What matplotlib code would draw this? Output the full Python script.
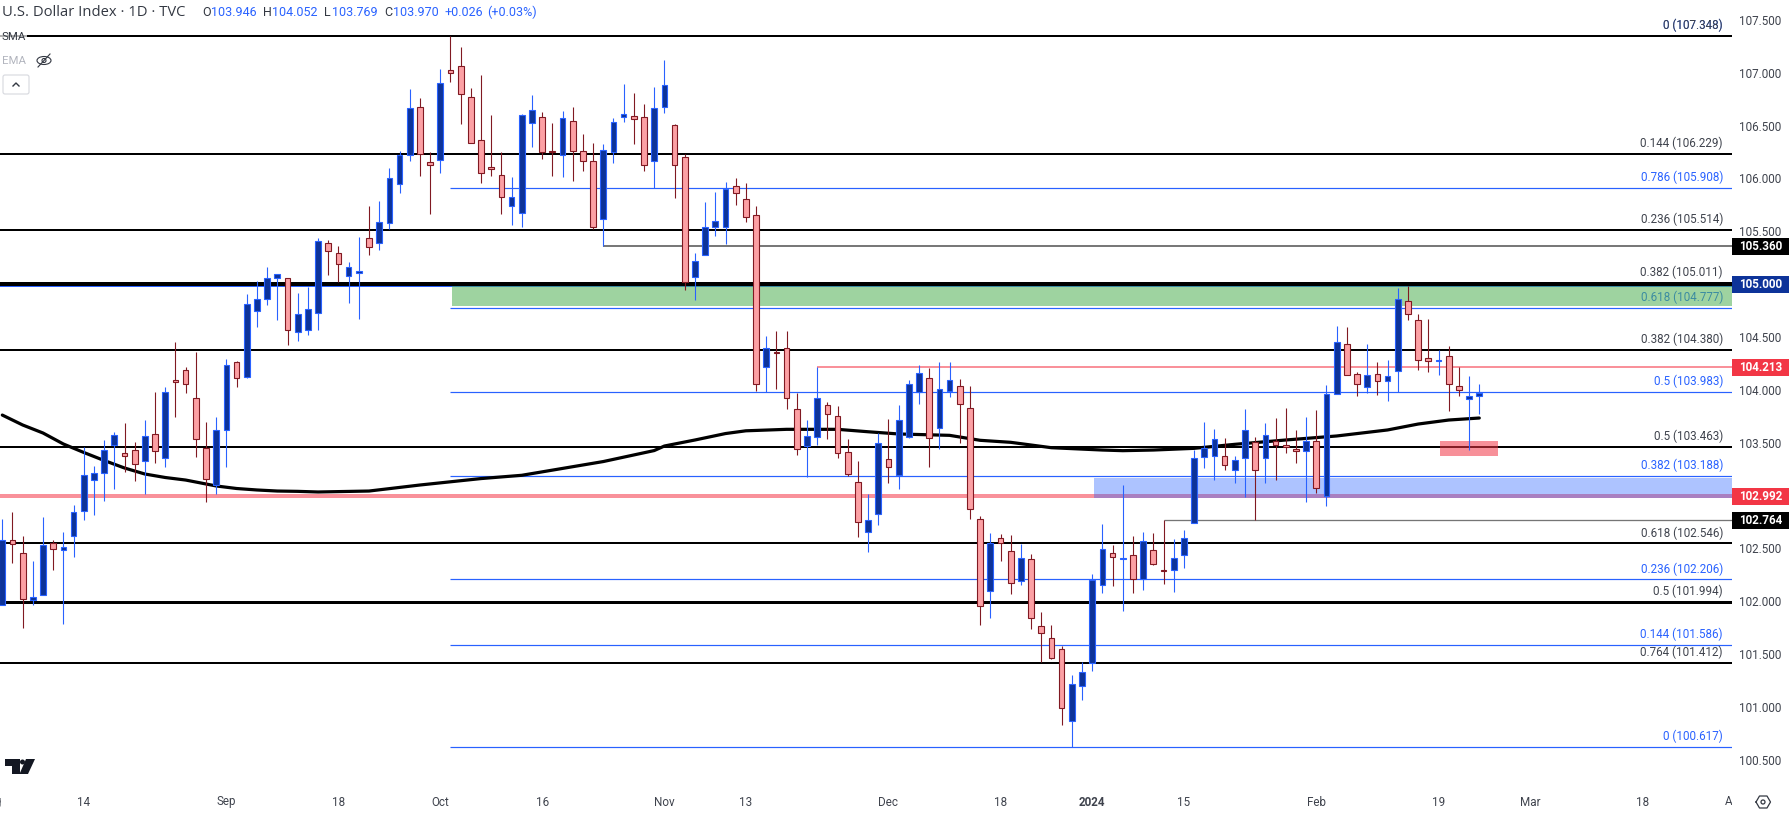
#!/usr/bin/env python3

import matplotlib

matplotlib.use("Agg")
from matplotlib.patches import FancyBboxPatch, Polygon, Rectangle, Ellipse
import matplotlib.pyplot as plt
import numpy as np

plt.rcParams["font.family"] = ["Roboto", "DejaVu Sans"]

opens = [
    101.960, 102.578, 102.453, 102.007, 102.060, 102.547, 102.481, 102.613, 102.850, 103.144,
    103.210, 103.474, 103.399, 103.427, 103.323, 103.578, 103.351, 104.090, 104.184, 103.919,
    103.446, 103.096, 103.616, 104.260, 104.124, 104.749, 104.862, 105.061, 105.055, 104.550,
    104.569, 104.730, 105.387, 105.292, 105.080, 105.108, 105.434, 105.387, 105.576, 105.945,
    106.219, 106.674, 106.153, 106.172, 107.024, 107.062, 106.768, 106.361, 106.106, 106.030,
    105.737, 105.673, 106.522, 106.579, 106.260, 106.219, 106.541, 106.257, 106.162, 105.614,
    106.248, 106.579, 106.588, 106.579, 106.162, 106.674, 106.503, 106.200, 105.065, 105.273,
    105.538, 105.538, 105.926, 105.803, 105.651, 104.213, 104.357, 104.393, 103.815, 103.465,
    103.550, 103.853, 103.749, 103.408, 103.125, 102.651, 102.822, 103.348, 103.190, 103.550,
    103.982, 104.109, 103.636, 103.986, 104.033, 103.825, 102.774, 102.093, 102.595, 102.471,
    102.188, 102.396, 101.762, 101.648, 101.544, 100.863, 101.194, 101.411, 102.150, 102.453,
    102.396, 102.434, 102.212, 102.481, 102.295, 102.292, 102.434, 102.737, 103.361, 103.370,
    103.370, 103.238, 103.351, 103.503, 103.351, 103.513, 103.475, 103.437, 103.418, 103.513,
    102.992, 103.957, 104.431, 104.147, 104.024, 104.147, 104.080, 104.175, 104.838, 104.658,
    104.298, 104.276, 104.317, 104.033, 103.910, 103.946,
]
highs = [
    102.777, 102.841, 102.616, 102.380, 102.796, 102.578, 102.654, 102.910, 103.461, 103.279,
    103.525, 103.600, 103.683, 103.503, 103.714, 103.979, 104.024, 104.452, 104.212, 104.358,
    103.695, 103.742, 104.291, 104.272, 104.906, 105.029, 105.159, 105.093, 105.055, 104.916,
    104.972, 105.437, 105.418, 105.361, 105.209, 105.446, 105.739, 105.787, 106.099, 106.260,
    106.847, 106.762, 106.250, 107.036, 107.348, 107.244, 106.856, 106.979, 106.601, 106.250,
    106.014, 106.610, 106.790, 106.629, 106.525, 106.638, 106.676, 106.421, 106.336, 106.326,
    106.572, 106.894, 106.809, 106.705, 106.866, 107.121, 106.515, 106.232, 105.295, 105.777,
    105.872, 105.967, 106.004, 105.957, 105.739, 104.509, 104.556, 104.556, 103.970, 103.714,
    104.219, 103.884, 103.846, 103.534, 103.326, 103.014, 103.591, 103.724, 103.856, 104.093,
    104.235, 104.206, 104.263, 104.263, 104.102, 104.036, 102.806, 102.645, 102.635, 102.626,
    102.541, 102.446, 101.897, 101.774, 101.575, 101.301, 101.424, 102.257, 102.730, 102.528,
    103.099, 102.613, 102.654, 102.645, 102.765, 102.588, 102.673, 103.430, 103.695, 103.629,
    103.544, 103.373, 103.818, 103.553, 103.686, 103.733, 103.828, 103.620, 103.742, 103.809,
    104.045, 104.604, 104.594, 104.168, 104.433, 104.263, 104.282, 104.963, 104.982, 104.714,
    104.670, 104.377, 104.412, 104.216, 104.131, 104.052,
]
lows = [
    101.960, 102.364, 101.748, 101.966, 102.060, 102.295, 101.786, 102.420, 102.768, 102.815,
    102.950, 103.061, 103.225, 103.140, 103.014, 103.310, 103.272, 103.745, 103.973, 103.367,
    102.941, 103.014, 103.272, 104.026, 104.114, 104.595, 104.803, 104.661, 104.424, 104.462,
    104.519, 104.566, 105.086, 105.020, 104.821, 104.670, 105.276, 105.323, 105.522, 105.865,
    106.168, 106.026, 105.667, 106.055, 106.916, 106.518, 106.333, 105.960, 106.026, 105.667,
    105.562, 105.544, 106.301, 106.187, 106.026, 106.017, 105.979, 106.073, 105.522, 105.361,
    106.149, 106.534, 106.326, 106.073, 105.910, 106.620, 105.818, 104.947, 104.853, 105.273,
    105.455, 105.380, 105.749, 105.588, 103.989, 103.976, 104.008, 103.818, 103.383, 103.178,
    103.477, 103.537, 103.357, 103.187, 102.610, 102.468, 102.720, 103.121, 103.061, 103.547,
    103.866, 103.272, 103.440, 103.932, 103.492, 102.777, 101.777, 101.843, 102.383, 102.070,
    102.155, 101.739, 101.424, 101.452, 100.830, 100.617, 101.067, 101.342, 102.080, 102.146,
    101.909, 102.080, 102.108, 102.345, 102.165, 102.089, 102.316, 102.737, 103.260, 103.146,
    103.244, 103.118, 102.985, 102.765, 103.118, 103.146, 103.402, 103.307, 102.938, 103.023,
    102.900, 103.957, 104.137, 103.941, 103.967, 103.951, 103.894, 103.976, 104.661, 104.187,
    104.168, 104.140, 103.799, 103.941, 103.430, 103.769,
]
closes = [
    102.578, 102.538, 102.017, 102.041, 102.528, 102.490, 102.515, 102.841, 103.190, 103.210,
    103.427, 103.569, 103.370, 103.294, 103.560, 103.418, 103.976, 104.071, 104.052, 103.531,
    103.153, 103.616, 104.232, 104.109, 104.809, 104.857, 105.055, 105.093, 104.569, 104.714,
    104.762, 105.406, 105.316, 105.193, 105.159, 105.124, 105.354, 105.585, 106.002, 106.225,
    106.664, 106.229, 106.125, 106.901, 107.001, 106.797, 106.333, 106.049, 106.087, 105.822,
    105.822, 106.598, 106.645, 106.248, 106.254, 106.569, 106.257, 106.162, 105.538, 106.267,
    106.532, 106.607, 106.560, 106.125, 106.664, 106.882, 106.125, 105.017, 105.216, 105.538,
    105.595, 105.903, 105.860, 105.632, 104.052, 104.393, 104.352, 103.919, 103.436, 103.560,
    103.919, 103.768, 103.399, 103.200, 102.746, 102.765, 103.494, 103.267, 103.711, 104.052,
    104.156, 103.541, 104.005, 104.090, 103.863, 102.869, 101.951, 102.547, 102.553, 102.169,
    102.405, 101.837, 101.695, 101.459, 100.986, 101.219, 101.327, 102.200, 102.490, 102.415,
    102.408, 102.207, 102.566, 102.354, 102.289, 102.405, 102.595, 103.352, 103.446, 103.531,
    103.285, 103.333, 103.616, 103.238, 103.569, 103.475, 103.456, 103.418, 103.513, 103.068,
    103.957, 104.450, 104.137, 104.052, 104.137, 104.080, 104.128, 104.856, 104.714, 104.279,
    104.270, 104.282, 104.052, 103.995, 103.938, 103.970,
]

# 200 day SMA, read at a handful of bars
sma_bars = [
    0, 2, 4, 6, 8, 10, 12, 14, 16, 18, 21, 23, 25, 27, 29, 31, 36, 41, 47, 51, 59, 64,
    65, 68, 71, 73, 77, 82, 85, 88, 93, 96, 99, 103, 108, 110, 113, 117, 121, 126, 131,
    136, 139, 142, 145,
]
sma_values = [
    103.761, 103.667, 103.591, 103.487, 103.407, 103.331, 103.260, 103.203, 103.170, 103.146,
    103.090, 103.066, 103.052, 103.042, 103.039, 103.033, 103.042, 103.099, 103.160, 103.191,
    103.321, 103.425, 103.468, 103.525, 103.586, 103.612, 103.626, 103.626, 103.603, 103.582,
    103.569, 103.522, 103.503, 103.452, 103.430, 103.424, 103.430, 103.446, 103.484, 103.525,
    103.563, 103.620, 103.676, 103.714, 103.733,
]

black_levels = [107.348, 106.229, 105.514, 105.011, 104.380, 103.463, 102.546, 101.994, 101.412]
black_ratios = ["0", "0.144", "0.236", "0.382", "0.382", "0.5", "0.618", "0.5", "0.764"]
black_widths = [2, 2, 2, 3, 2, 2, 2, 3, 2]
blue_levels = [107.348, 105.908, 104.777, 103.983, 103.188, 102.206, 101.586, 100.617]
blue_ratios = ["0", "0.786", "0.618", "0.5", "0.382", "0.236", "0.144", "0"]

price_ticks = [107.5, 107, 106.5, 106, 105.5, 104.5, 104, 103.5, 102.5, 102, 101.5, 101, 100.5]
date_bars = [-1, 8, 22, 33, 43, 53, 65, 73, 87, 98, 107, 116, 129, 141, 150, 161, 170]
date_labels = ["Aug", "14", "Sep", "18", "Oct", "16", "Nov", "13", "Dec", "18", "2024",
               "15", "Feb", "19", "Mar", "18", "Apr"]

UP_FILL = "#0d3399"
UP_EDGE = "#2962ff"
DOWN_FILL = "#fca0a4"
DOWN_EDGE = "#801922"
PINK = "#f9919a"
GREY_TEXT = "#3f434d"

W, H = 1789, 814
CHART_W, CHART_H = 1732, 785
BAR_X0, BAR_STEP = 2.3, 10.186
PRICE_TOP, PRICE_BOTTOM = 107.689, 100.260


def px(width):
    return width * 0.72


fig = plt.figure(figsize=(W / 100, H / 100), dpi=100, facecolor="white")
ax = fig.add_axes([0, 1 - CHART_H / H, CHART_W / W, CHART_H / H])
ax.set_xlim(-BAR_X0 / BAR_STEP, (CHART_W - BAR_X0) / BAR_STEP)
ax.set_ylim(PRICE_BOTTOM, PRICE_TOP)
for spine in ax.spines.values():
    spine.set_visible(False)
ax.xaxis.set_visible(False)
ax.yaxis.tick_right()
ax.set_yticks(price_ticks, [f"{p:.3f}" for p in price_ticks])
ax.tick_params(axis="y", length=0, pad=5.4, labelsize=8.4, labelcolor=GREY_TEXT)
xmax = ax.get_xlim()[1]

# levels
for level, width in zip(black_levels, black_widths):
    ax.hlines(level, -1, xmax, color="black", lw=px(width), zorder=2)
ax.hlines(105.0, -1, xmax, color="black", lw=px(3), zorder=2)
ax.hlines(104.985, -1, xmax, color=UP_EDGE, lw=px(1), zorder=2)
for level in blue_levels[1:]:
    ax.hlines(level, 44, xmax, color=UP_EDGE, lw=px(1.2), zorder=2)
ax.hlines(105.360, 59, xmax, color="#787878", lw=px(2), zorder=2)
ax.hlines(102.764, 114, xmax, color="#757575", lw=px(1.3), zorder=2)
ax.hlines(104.213, 80, xmax, color=PINK, lw=px(2), zorder=2)
ax.hlines(102.992, -1, xmax, color=PINK, lw=px(4), zorder=2)

# fib labels, blue first so the doubled 0 label comes out dark
for level, ratio in zip(blue_levels, blue_ratios):
    ax.annotate(f"{ratio} ({level:.3f})", (xmax, level), xytext=(-9, 10.5), textcoords="offset pixels",
                ha="right", va="center", fontsize=8.4, color=UP_EDGE, zorder=2.4)
for level, ratio in zip(black_levels, black_ratios):
    ax.annotate(f"{ratio} ({level:.3f})", (xmax, level), xytext=(-9, 10.5), textcoords="offset pixels",
                ha="right", va="center", fontsize=8.4, color=GREY_TEXT, zorder=2.5)

# zones
ax.add_patch(Rectangle((44.15, 104.79), xmax - 44.15, 104.985 - 104.79, facecolor=(76 / 255, 175 / 255, 80 / 255, 0.54),
                       edgecolor="none", zorder=3))
ax.add_patch(Rectangle((107.2, 102.975), xmax - 107.2, 103.17 - 102.975, facecolor=(41 / 255, 98 / 255, 1, 0.38),
                       edgecolor="none", zorder=3))
ax.add_patch(Rectangle((141.1, 103.37), 5.7, 0.142, facecolor=(242 / 255, 54 / 255, 69 / 255, 0.55),
                       edgecolor="none", zorder=3))

ax.plot(sma_bars, sma_values, color="black", lw=px(3.2), solid_capstyle="round", zorder=4)

# candles
bars = np.arange(len(opens))
opens = np.array(opens)
closes = np.array(closes)
up = closes >= opens
ax.vlines(bars[up], np.array(lows)[up], np.array(highs)[up], color=UP_EDGE, lw=px(1.1), zorder=5)
ax.vlines(bars[~up], np.array(lows)[~up], np.array(highs)[~up], color=DOWN_EDGE, lw=px(1.1), zorder=5)
body_width = 5.7 / BAR_STEP
ax.bar(bars[up], (closes - opens)[up], bottom=opens[up], width=body_width, facecolor=UP_FILL,
       edgecolor=UP_EDGE, lw=px(1.1), zorder=6)
ax.bar(bars[~up], (closes - opens)[~up], bottom=opens[~up], width=body_width, facecolor=DOWN_FILL,
       edgecolor=DOWN_EDGE, lw=px(1.1), zorder=6)

# price badges
badges = [(105.360, "black"), (105.000, UP_FILL), (104.213, "#f23645"), (102.992, "#f23645"), (102.764, "black")]
badge_h = 17 / ((CHART_H) / (PRICE_TOP - PRICE_BOTTOM))
for level, colour in badges:
    ax.add_patch(Rectangle((1, level - badge_h / 2), (W - CHART_W) / CHART_W, badge_h, transform=ax.get_yaxis_transform(),
                           facecolor=colour, edgecolor="none", clip_on=False, zorder=7))
    ax.text(1 + 29 / CHART_W, level, f"{level:.3f}", transform=ax.get_yaxis_transform(), ha="center",
            va="center", color="white", fontsize=8.4, fontweight="bold", clip_on=False, zorder=8)

# time scale
ax_time = fig.add_axes([0, 0, CHART_W / W, 1 - CHART_H / H], sharex=None)
ax_time.set_xlim(ax.get_xlim())
ax_time.set_ylim(0, 1)
ax_time.axis("off")
for bar, label in zip(date_bars, date_labels):
    weight = "bold" if label == "2024" else "normal"
    ax_time.text(bar, 12 / 29, label, ha="center", va="center", fontsize=8.4, color=GREY_TEXT,
                 fontweight=weight, clip_on=True)

# header and tool icons, in picture pixels
ui = fig.add_axes([0, 0, 1, 1], facecolor="none")
ui.set_xlim(0, W)
ui.set_ylim(H, 0)
ui.axis("off")
ui.text(2, 12.7, "U.S. Dollar Index · 1D · TVC", fontsize=10.6, color="#333842", va="center", family="Open Sans")
header = [(202, "O", "#333842"), (211, "103.946", UP_EDGE), (263, "H", "#333842"), (272, "104.052", UP_EDGE),
          (324, "L", "#333842"), (332, "103.769", UP_EDGE), (384, "C", "#333842"), (393, "103.970", UP_EDGE),
          (444, "+0.026", UP_EDGE), (487, "(+0.03%)", UP_EDGE)]
for x, text, colour in header:
    ui.text(x, 12.7, text, fontsize=9, color=colour, va="center")

ui.add_patch(Rectangle((0, 31), 27, 10, facecolor="white", alpha=0.7, edgecolor="none"))
ui.text(2, 37, "SMA", fontsize=8.2, color="#333842", va="center")
ui.text(2, 61, "EMA", fontsize=8.2, color="#b2b5be", va="center")
ui.add_patch(Ellipse((44, 60.5), 14, 8, facecolor="none", edgecolor="#333842", lw=0.8))
ui.add_patch(Ellipse((44, 60.5), 4, 4, facecolor="none", edgecolor="#333842", lw=0.8))
ui.plot([38, 50], [67, 54], color="#333842", lw=0.8)
ui.add_patch(FancyBboxPatch((3, 75), 26, 19, boxstyle="round,pad=0,rounding_size=2", facecolor="white",
                            edgecolor="#d6d8de", lw=0.8))
ui.plot([13, 16, 19], [86, 83, 86], color="#333842", lw=1.0)

# TV logo
ui.add_patch(Polygon([(5, 759), (20, 759), (20, 774), (12, 774), (12, 766), (5, 766)], facecolor="#131722", edgecolor="none"))
ui.add_patch(Polygon([(26, 759), (35, 759), (28, 774), (19.5, 774)], facecolor="#131722", edgecolor="none"))
ui.add_patch(Ellipse((22.5, 762), 5, 5, facecolor="#131722", edgecolor="none"))

# settings hexagon
hex_x = [1756, 1759.5, 1767, 1770.5, 1767, 1759.5, 1756]
hex_y = [802, 796, 796, 802, 808, 808, 802]
ui.plot(hex_x, hex_y, color="#333842", lw=0.9)
ui.add_patch(Ellipse((1763, 802), 4, 4, facecolor="none", edgecolor="#333842", lw=0.9))

fig.savefig("out.png", dpi=100)
